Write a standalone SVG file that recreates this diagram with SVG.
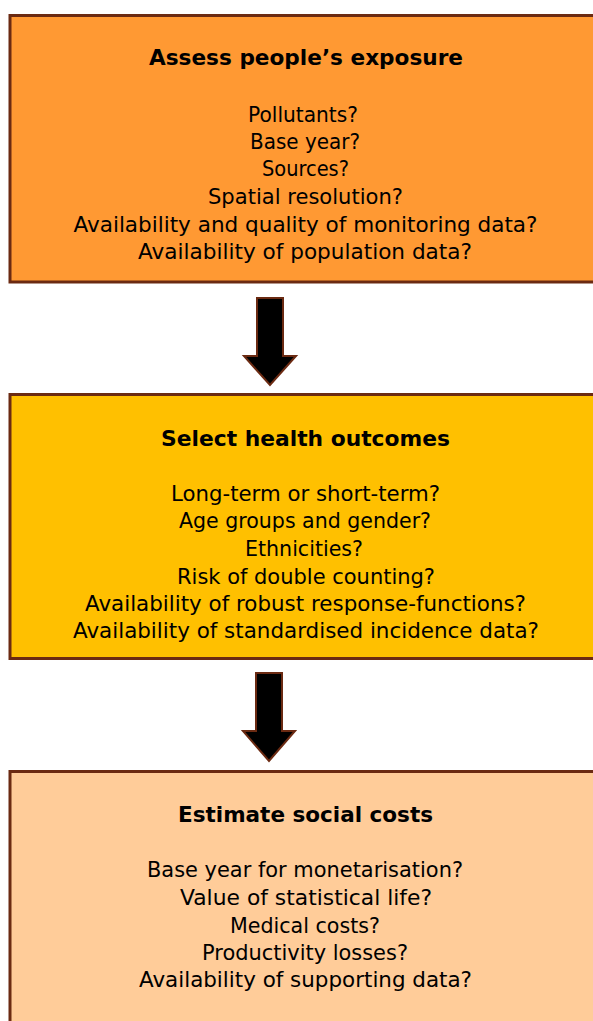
<svg xmlns="http://www.w3.org/2000/svg" width="593" height="1021" viewBox="0 0 593 1021">
<style>
.box{stroke:#6B2A12;stroke-width:3}
.arrow{fill:#000;stroke:#6B2A12;stroke-width:2;stroke-linejoin:miter}
text{font-family:"DejaVu Sans",sans-serif;fill:#000;text-anchor:middle}
.t{font-weight:bold;font-size:21.5px}
.l{font-size:20.5px}
</style>
<g id="node-exposure">
<rect class="box" x="10" y="15.5" width="600" height="266.5" fill="#FF9933"/>
<text class="t" x="306" y="65" textLength="314" lengthAdjust="spacingAndGlyphs">Assess people’s exposure</text>
<text class="l" x="303" y="122" textLength="110" lengthAdjust="spacingAndGlyphs">Pollutants?</text>
<text class="l" x="305" y="149" textLength="110" lengthAdjust="spacingAndGlyphs">Base year?</text>
<text class="l" x="305.5" y="176" textLength="87" lengthAdjust="spacingAndGlyphs">Sources?</text>
<text class="l" x="305.5" y="204" textLength="195" lengthAdjust="spacingAndGlyphs">Spatial resolution?</text>
<text class="l" x="305.5" y="232" textLength="464" lengthAdjust="spacingAndGlyphs">Availability and quality of monitoring data?</text>
<text class="l" x="305" y="259" textLength="334" lengthAdjust="spacingAndGlyphs">Availability of population data?</text>
</g>
<g id="node-outcomes">
<rect class="box" x="10" y="394.5" width="600" height="264" fill="#FFC000"/>
<text class="t" x="305.5" y="446" textLength="289" lengthAdjust="spacingAndGlyphs">Select health outcomes</text>
<text class="l" x="305.5" y="501" textLength="269" lengthAdjust="spacingAndGlyphs">Long-term or short-term?</text>
<text class="l" x="305" y="528" textLength="252" lengthAdjust="spacingAndGlyphs">Age groups and gender?</text>
<text class="l" x="304" y="556" textLength="118" lengthAdjust="spacingAndGlyphs">Ethnicities?</text>
<text class="l" x="306" y="584" textLength="258" lengthAdjust="spacingAndGlyphs">Risk of double counting?</text>
<text class="l" x="305.5" y="611" textLength="441" lengthAdjust="spacingAndGlyphs">Availability of robust response-functions?</text>
<text class="l" x="306" y="638" textLength="466" lengthAdjust="spacingAndGlyphs">Availability of standardised incidence data?</text>
</g>
<g id="node-costs">
<rect class="box" x="10" y="771.5" width="600" height="270" fill="#FFCC99"/>
<text class="t" x="305.5" y="822" textLength="255" lengthAdjust="spacingAndGlyphs">Estimate social costs</text>
<text class="l" x="305" y="877" textLength="316" lengthAdjust="spacingAndGlyphs">Base year for monetarisation?</text>
<text class="l" x="306" y="905" textLength="252" lengthAdjust="spacingAndGlyphs">Value of statistical life?</text>
<text class="l" x="305" y="933" textLength="150" lengthAdjust="spacingAndGlyphs">Medical costs?</text>
<text class="l" x="305" y="960" textLength="206" lengthAdjust="spacingAndGlyphs">Productivity losses?</text>
<text class="l" x="305.5" y="987" textLength="333" lengthAdjust="spacingAndGlyphs">Availability of supporting data?</text>
</g>
<g id="connectors">
<polygon class="arrow" points="257,298 283,298 283,356 296,356 270,385 244,356 257,356"/>
<polygon class="arrow" points="256,673 282,673 282,731 295,731 269,761 243,731 256,731"/>
</g>
</svg>
